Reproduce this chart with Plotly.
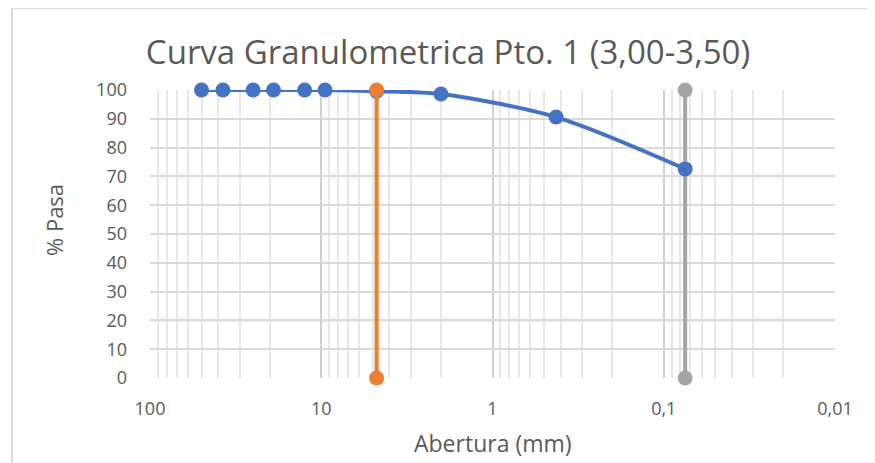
import plotly.graph_objects as go

# Data
abertura_mm = [50, 37.5, 25, 19, 12.5, 9.5, 4.75, 2.0, 0.425, 0.075]
pasa_pct = [100, 100, 100, 100, 100, 100, 99.6, 98.6, 90.6, 72.6]
tamiz4_x = [4.75, 4.75]
tamiz4_y = [0, 100]
tamiz200_x = [0.075, 0.075]
tamiz200_y = [0, 100]

title_text = "Curva Granulometrica Pto. 1 (3,00-3,50)"
x_title = "Abertura (mm)"
y_title = "% Pasa"

BLUE = "#4472C4"
ORANGE = "#ED7D31"
GRAY = "#A5A5A5"
TXT = "#595959"
FONT = "Open Sans"

# page body has an 8px margin; work in page pixels and offset
OFF = 8
W, H = 875 - OFF, 463 - OFF
PL, PR, PT, PB = 150 - OFF, 835 - OFF, 90 - OFF, 378 - OFF  # plot area in figure px
PW, PH = PR - PL, PB - PT


def px_x(p):
    return (p - OFF - PL) / PW


def px_y(p):
    return (PB - (p - OFF)) / PH


fig = go.Figure()
fig.add_trace(go.Scatter(x=tamiz200_x, y=tamiz200_y, mode="lines+markers",
                         line=dict(color=GRAY, width=4), cliponaxis=False,
                         marker=dict(color=GRAY, size=15), showlegend=False))
fig.add_trace(go.Scatter(x=abertura_mm, y=pasa_pct, mode="lines+markers",
                         line=dict(color=BLUE, width=4, shape="spline", smoothing=0.8),
                         cliponaxis=False,
                         marker=dict(color=BLUE, size=15), showlegend=False))
fig.add_trace(go.Scatter(x=tamiz4_x, y=tamiz4_y, mode="lines+markers",
                         line=dict(color=ORANGE, width=4), cliponaxis=False,
                         marker=dict(color=ORANGE, size=15), showlegend=False))

fig.update_layout(
    width=W, height=H,
    margin=dict(l=PL, r=W - PR, t=PT, b=H - PB, pad=0),
    paper_bgcolor="white", plot_bgcolor="white",
    separators=",.",
    font=dict(family=FONT, color=TXT, size=17),
    title=dict(text=title_text, x=(448 - OFF) / W, xanchor="center", xref="container",
               y=1 - (52 - OFF) / H, yanchor="middle", yref="container",
               font=dict(family=FONT, size=33, color=TXT)),
    xaxis=dict(type="log", range=[2, -2], dtick=1,
               showgrid=True, gridcolor="#D0D0D0", gridwidth=1.5,
               minor=dict(dtick="D1", showgrid=True, gridcolor="#E8E8E8", gridwidth=1.5),
               zeroline=False, showline=False, ticks="",
               tickfont=dict(family=FONT, size=18, color=TXT), ticklabelstandoff=18),
    yaxis=dict(range=[0, 100], dtick=10, showgrid=True, gridcolor="#D9D9D9", gridwidth=1.5,
               zeroline=False, showline=False, ticks="",
               tickfont=dict(family=FONT, size=18, color=TXT), ticklabelstandoff=22),
    shapes=[
        dict(type="line", xref="paper", yref="y", x0=0, x1=1, y0=20, y1=20,
             line=dict(color="#C4C4C4", width=1.5), layer="below"),
        dict(type="rect", xref="paper", yref="paper",
             x0=px_x(12), x1=1.2, y0=-0.5, y1=px_y(8),
             line=dict(color="#D9D9D9", width=2), fillcolor="rgba(0,0,0,0)"),
    ],
    annotations=[
        dict(text=x_title, xref="paper", yref="paper", x=0.5, y=px_y(443),
             xanchor="center", yanchor="middle", showarrow=False,
             font=dict(family=FONT, size=23, color=TXT)),
        dict(text=y_title, xref="paper", yref="paper", x=px_x(54), y=px_y(220),
             xanchor="center", yanchor="middle", textangle=-90, showarrow=False,
             font=dict(family=FONT, size=22, color=TXT)),
    ],
)

fig.write_html("out.html")
